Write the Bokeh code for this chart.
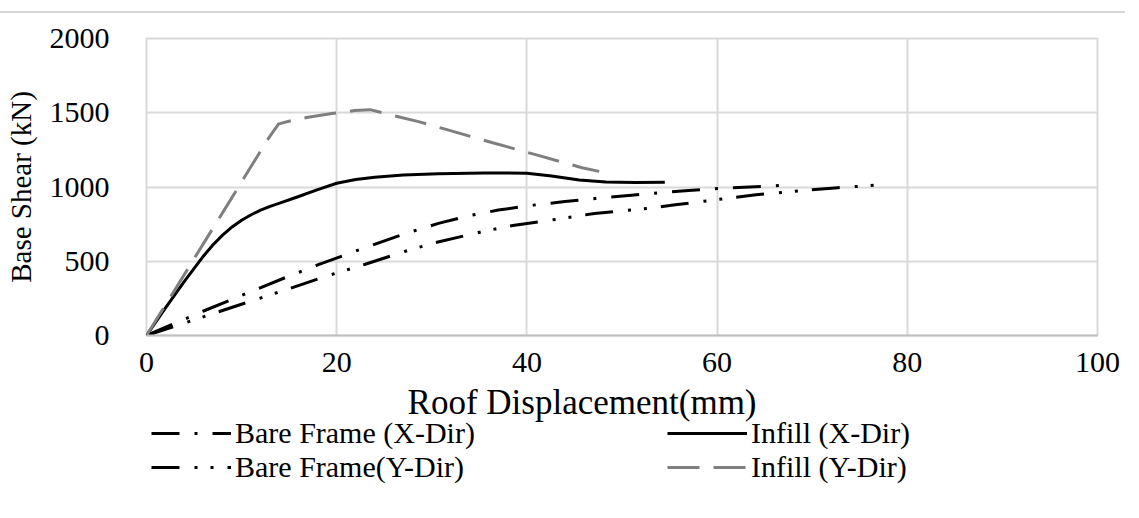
from bokeh.plotting import figure
from bokeh.models import Range1d, FixedTicker, Legend, LegendItem, Label
from bokeh.layouts import column
from bokeh.embed import file_html
from bokeh.resources import INLINE

# ---- data ----
bare_x_disp = [0, 6, 10, 14.6, 18, 22.7, 27.4, 30.7, 33.8, 37, 40.7, 44, 47.2, 51, 54.1, 57, 60.2, 64, 67.5]
bare_x_shear = [0, 165, 270, 390, 475, 585, 690, 755, 805, 845, 878, 902, 923, 945, 962, 977, 990, 1002, 1013]

bare_y_disp = [0, 5, 10.9, 15, 18.9, 23, 27, 30.4, 35.2, 38.7, 43.7, 47.1, 52, 55.6, 60.2, 64.1, 69.2, 72.7, 76.8]
bare_y_shear = [0, 105, 230, 315, 399, 480, 563, 626, 698, 743, 788, 822, 851, 880, 917, 948, 977, 995, 1013]

infill_x_disp = [0, 2, 4, 6, 7, 8, 9, 10, 11, 12, 13, 14, 16, 18, 20, 22, 24, 27, 30.7, 35.5, 40, 42.6, 45.5, 48.3, 51.4, 54.5]
infill_x_shear = [0, 186, 366, 536, 611, 676, 731, 776, 813, 844, 869, 891, 936, 982, 1025, 1050, 1066, 1080, 1090, 1095, 1093, 1074, 1047, 1034, 1030, 1032]

infill_y_disp = [0, 2.3, 4.4, 6.8, 8.9, 11.4, 12.8, 13.9, 15.5, 17.0, 19.5, 21.9, 23.5, 26.8, 28.6, 31.5, 36.3, 41.0, 45.8, 47.6]
infill_y_shear = [0, 237, 455, 703, 920, 1180, 1325, 1425, 1452, 1470, 1495, 1515, 1521, 1468, 1440, 1388, 1300, 1216, 1130, 1105]

series_names = ["Bare Frame (X-Dir)", "Infill (X-Dir)", "Bare Frame(Y-Dir)", "Infill (Y-Dir)"]
x_ticks = [0, 20, 40, 60, 80, 100]
y_ticks = [0, 500, 1000, 1500, 2000]
x_title = "Roof Displacement(mm)"
y_title = "Base Shear (kN)"

FONT = "Liberation Serif"
GRID = "#d9d9d9"
TOTAL_W = 1125

# series styles
styles = {
    "bx": dict(line_color="black", line_width=3, line_dash="28 15 3 15"),
    "by": dict(line_color="black", line_width=3, line_dash="28 15 3 13 3 14"),
    "ix": dict(line_color="black", line_width=3),
    "iy": dict(line_color="#7f7f7f", line_width=3, line_dash="32 14"),
}

# ---------------- main chart ----------------
p = figure(frame_width=951, frame_height=295, output_backend="svg", toolbar_location=None,
           x_range=Range1d(0, 100), y_range=Range1d(0, 2000),
           min_border_left=146, min_border_right=TOTAL_W - 146 - 951,
           min_border_top=25, min_border_bottom=50)
p.margin = (11, 0, 0, 0)
p.styles = {"border-top": "2px solid #d9d9d9"}
p.background_fill_color = "white"
p.border_fill_color = "white"
p.outline_line_color = GRID
p.outline_line_width = 2

p.xaxis.ticker = FixedTicker(ticks=x_ticks)
p.yaxis.ticker = FixedTicker(ticks=y_ticks)
p.xgrid.ticker = FixedTicker(ticks=x_ticks)
p.ygrid.ticker = FixedTicker(ticks=y_ticks)
p.grid.grid_line_color = GRID
p.grid.grid_line_width = 2

for ax in (p.xaxis[0], p.yaxis[0]):
    ax.major_tick_line_color = None
    ax.minor_tick_line_color = None
    ax.major_label_text_font = FONT
    ax.major_label_text_font_size = "30px"
    ax.major_label_text_color = "black"
    ax.axis_label_text_font = FONT
    ax.axis_label_text_font_style = "normal"
    ax.axis_label_text_color = "black"

p.xaxis.axis_line_color = "#bfbfbf"
p.xaxis.axis_line_width = 2
p.yaxis.axis_line_color = None
p.xaxis.major_label_standoff = 11
p.yaxis.major_label_standoff = 31
p.yaxis.axis_label = y_title
p.yaxis.axis_label_text_font_size = "29px"
p.yaxis.axis_label_standoff = 10

p.line(bare_x_disp, bare_x_shear, **styles["bx"])
p.line(bare_y_disp, bare_y_shear, **styles["by"])
p.line(infill_x_disp, infill_x_shear, **styles["ix"])
p.line(infill_y_disp, infill_y_shear, **styles["iy"])

# ---------------- title + legend strip (frame aligned with the chart's frame) ----------------
LEG_H = 112
q = figure(width=TOTAL_W, height=LEG_H, output_backend="svg", toolbar_location=None,
           x_range=Range1d(0, 100), y_range=Range1d(0, LEG_H),
           min_border=0, min_border_left=0, min_border_right=0, min_border_top=0, min_border_bottom=0)
q.axis.visible = False
q.grid.visible = False
q.outline_line_color = None
q.background_fill_color = "white"
q.border_fill_color = "white"

q.add_layout(Label(x=45.8, y=93, text=x_title, text_align="center", text_baseline="middle",
                   text_font=FONT, text_font_size="35px", text_color="black"))

# legend-only renderers (their points lie outside the visible range)
hidden_x = [-50, -40]
hidden_y = [-50, -50]
d_bx = q.line(hidden_x, hidden_y, **styles["bx"])
d_by = q.line(hidden_x, hidden_y, **styles["by"])
d_ix = q.line(hidden_x, hidden_y, **styles["ix"])
d_iy = q.line(hidden_x, hidden_y, **styles["iy"])

def make_legend(items, vy):
    return Legend(items=items, orientation="horizontal", glyph_width=80, glyph_height=30,
                  label_standoff=4, label_width=432, spacing=0, margin=0, padding=0,
                  border_line_color=None, background_fill_alpha=0,
                  label_text_font=FONT, label_text_font_size="30px", label_text_color="black",
                  location=(5, vy))

q.add_layout(make_legend([LegendItem(label=series_names[0], renderers=[d_bx]),
                          LegendItem(label=series_names[1], renderers=[d_ix])], 45))
q.add_layout(make_legend([LegendItem(label=series_names[2], renderers=[d_by]),
                          LegendItem(label=series_names[3], renderers=[d_iy])], 11))

layout = column(p, q, spacing=0)
open("out.html", "w").write(file_html(layout, INLINE))
